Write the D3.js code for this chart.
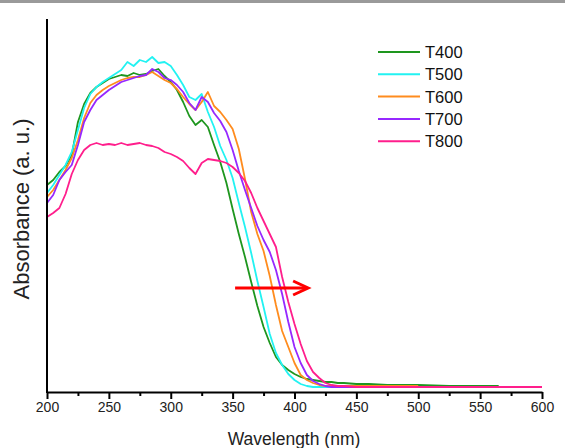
<!DOCTYPE html>
<html>
<head>
<meta charset="utf-8">
<script src="https://cdnjs.cloudflare.com/ajax/libs/d3/7.8.5/d3.min.js"></script>
<style>
  html, body { margin: 0; padding: 0; background: #fff; }
  svg { display: block; font-family: 'Liberation Sans', Arial, sans-serif; }
</style>
</head>
<body>
<svg id="chart" width="565" height="448"></svg>
<script>
// wavelength grid (nm)
var wavelengths = [200, 205, 210, 215, 220, 225, 230, 235, 240, 245, 250, 255, 260, 265, 270, 275, 280, 285, 290, 295,
  300, 305, 310, 315, 320, 325, 330, 335, 340, 345, 350, 355, 360, 365, 370, 375, 380, 385, 390, 395,
  400, 405, 410, 415, 420, 425, 430, 435, 440, 450, 460, 475, 500, 525, 565, 575, 600];

// absorbance (a.u.)
var t400 = [2.07, 2.12, 2.20, 2.26, 2.37, 2.70, 2.88, 2.99, 3.05, 3.09, 3.13, 3.15, 3.17, 3.16, 3.19, 3.17, 3.18, 3.21, 3.23, 3.16,
  3.10, 3.02, 2.90, 2.76, 2.67, 2.72, 2.65, 2.47, 2.30, 2.09, 1.83, 1.58, 1.35, 1.10, 0.86, 0.65, 0.49, 0.35, 0.27, 0.22,
  0.18, 0.15, 0.13, 0.12, 0.11, 0.10, 0.10, 0.09, 0.09, 0.08, 0.08, 0.07, 0.07, 0.06, 0.06, null, null];
var t500 = [1.99, 2.07, 2.17, 2.27, 2.40, 2.62, 2.84, 2.98, 3.05, 3.10, 3.14, 3.18, 3.22, 3.30, 3.26, 3.32, 3.30, 3.35, 3.29, 3.30,
  3.26, 3.17, 3.07, 2.95, 2.92, 2.98, 2.80, 2.65, 2.46, 2.32, 2.14, 1.89, 1.65, 1.39, 1.11, 0.85, 0.58, 0.39, 0.27, 0.18,
  0.12, 0.08, 0.06, 0.05, 0.05, 0.05, 0.05, 0.05, 0.05, 0.05, 0.05, 0.05, 0.05, null, null, null, null];
var t600 = [1.95, 2.02, 2.12, 2.22, 2.34, 2.52, 2.74, 2.89, 2.97, 3.02, 3.06, 3.09, 3.12, 3.14, 3.15, 3.15, 3.17, 3.20, 3.16, 3.12,
  3.09, 3.03, 2.95, 2.88, 2.82, 2.90, 3.00, 2.86, 2.80, 2.72, 2.63, 2.43, 2.13, 1.80, 1.58, 1.41, 1.16, 0.87, 0.61, 0.45,
  0.29, 0.17, 0.12, 0.09, 0.07, 0.06, 0.06, 0.06, 0.06, 0.06, 0.06, 0.06, 0.06, null, null, null, null];
var t700 = [1.89, 1.97, 2.12, 2.20, 2.27, 2.47, 2.70, 2.82, 2.92, 2.97, 3.02, 3.06, 3.10, 3.12, 3.14, 3.16, 3.17, 3.23, 3.20, 3.14,
  3.12, 3.07, 3.00, 2.89, 2.82, 2.95, 2.90, 2.79, 2.71, 2.60, 2.42, 2.21, 2.02, 1.84, 1.66, 1.52, 1.40, 1.22, 0.98, 0.70,
  0.45, 0.29, 0.17, 0.11, 0.08, 0.06, 0.05, 0.05, 0.05, 0.05, 0.05, 0.05, 0.05, null, null, null, null];
var t800 = [1.75, 1.79, 1.84, 1.98, 2.18, 2.32, 2.42, 2.47, 2.49, 2.47, 2.48, 2.47, 2.49, 2.47, 2.48, 2.49, 2.47, 2.46, 2.44, 2.40,
  2.38, 2.35, 2.31, 2.24, 2.18, 2.29, 2.33, 2.32, 2.31, 2.29, 2.25, 2.19, 2.11, 1.99, 1.84, 1.71, 1.58, 1.45, 1.15, 0.90,
  0.68, 0.48, 0.31, 0.20, 0.14, 0.09, 0.07, 0.06, 0.06, 0.05, 0.05, 0.05, 0.05, 0.05, 0.05, 0.05, 0.05];

var seriesNames = ['T400', 'T500', 'T600', 'T700', 'T800'];
var seriesValues = [t400, t500, t600, t700, t800];
var seriesColors = ['#1e961e', '#22f2f2', '#ff8c1e', '#9628ff', '#ff1e8c'];

var xMajorTicks = [200, 250, 300, 350, 400, 450, 500, 550, 600];
var xMinorTicks = [225, 275, 325, 375, 425, 475, 525, 575];

// red-shift arrow (wavelength, absorbance)
var arrowStart = [352, 1.04];
var arrowEnd = [411, 1.04];

var Chart = function(el) {
  this.svg = d3.select(el);
  this.init();
};

Chart.prototype = {
  init: function() {
    this.x = d3.scaleLinear().domain([200, 600]).range([47, 542]);
    this.y = d3.scaleLinear().domain([0, 3.73]).range([392, 19]);
  },

  render: function() {
    this.svg.append('rect')
      .attr('x', 0).attr('y', 0)
      .attr('width', 565).attr('height', 3)
      .attr('fill', '#9a9a9a');

    this.drawSeries();
    this.drawAxes();
    this.drawArrow();
    this.drawLegend();
  },

  drawSeries: function() {
    var self = this;
    var line = d3.line()
      .defined(function(d) { return d[1] !== null; })
      .x(function(d) { return self.x(d[0]); })
      .y(function(d) { return self.y(d[1]); });

    seriesValues.forEach(function(vals, i) {
      var pts = wavelengths.map(function(w, j) { return [w, vals[j]]; });
      self.svg.append('path')
        .attr('d', line(pts))
        .attr('fill', 'none')
        .attr('stroke', seriesColors[i])
        .attr('stroke-width', 1.8)
        .attr('stroke-linejoin', 'round');
    });
  },

  drawAxes: function() {
    var xAxis = d3.axisBottom(this.x)
      .tickValues(xMajorTicks)
      .tickSize(7)
      .tickSizeOuter(0)
      .tickPadding(3)
      .tickFormat(d3.format('d'));

    var g = this.svg.append('g')
      .attr('transform', 'translate(0,392)')
      .call(xAxis);
    g.select('.domain').attr('stroke', '#000').attr('stroke-width', 2);
    g.selectAll('.tick line').attr('stroke', '#000').attr('stroke-width', 2);
    g.selectAll('.tick text')
      .attr('fill', '#222')
      .style('font-size', '14px')
      .style('font-family', "'Liberation Sans', Arial, sans-serif");

    var minor = this.svg.append('g')
      .attr('transform', 'translate(0,392)')
      .call(d3.axisBottom(this.x).tickValues(xMinorTicks).tickSize(4).tickSizeOuter(0).tickFormat(''));
    minor.select('.domain').remove();
    minor.selectAll('.tick line').attr('stroke', '#000').attr('stroke-width', 2);

    // left axis: line only, no ticks
    this.svg.append('line')
      .attr('x1', this.x(200)).attr('x2', this.x(200))
      .attr('y1', this.y.range()[1]).attr('y2', this.y.range()[0] + 1)
      .attr('stroke', '#000')
      .attr('stroke-width', 2);

    this.svg.append('text')
      .attr('x', 294).attr('y', 445)
      .attr('text-anchor', 'middle')
      .attr('fill', '#222')
      .style('font-size', '17.5px')
      .text('Wavelength (nm)');

    this.svg.append('text')
      .attr('transform', 'translate(29,209) rotate(-90)')
      .attr('text-anchor', 'middle')
      .attr('fill', '#222')
      .style('font-size', '22px')
      .text('Absorbance (a. u.)');
  },

  drawArrow: function() {
    var x1 = this.x(arrowStart[0]), y1 = this.y(arrowStart[1]);
    var x2 = this.x(arrowEnd[0]), y2 = this.y(arrowEnd[1]);
    this.svg.append('line')
      .attr('x1', x1).attr('y1', y1)
      .attr('x2', x2 - 2).attr('y2', y2)
      .attr('stroke', '#ff0000')
      .attr('stroke-width', 3);
    this.svg.append('polyline')
      .attr('points', [x2 - 15, y2 - 7, x2, y2, x2 - 15, y2 + 7])
      .attr('fill', 'none')
      .attr('stroke', '#ff0000')
      .attr('stroke-width', 3);
  },

  drawLegend: function() {
    var lg = this.svg.append('g');
    seriesNames.forEach(function(name, i) {
      var yy = 52 + i * 22.3;
      lg.append('line')
        .attr('x1', 378).attr('x2', 420)
        .attr('y1', yy).attr('y2', yy)
        .attr('stroke', seriesColors[i])
        .attr('stroke-width', 2);
      lg.append('text')
        .attr('x', 425).attr('y', yy + 6)
        .attr('fill', '#111')
        .style('font-size', '16.5px')
        .text(name);
    });
  }
};

var chart = new Chart('#chart');
chart.render();
</script>
</body>
</html>
